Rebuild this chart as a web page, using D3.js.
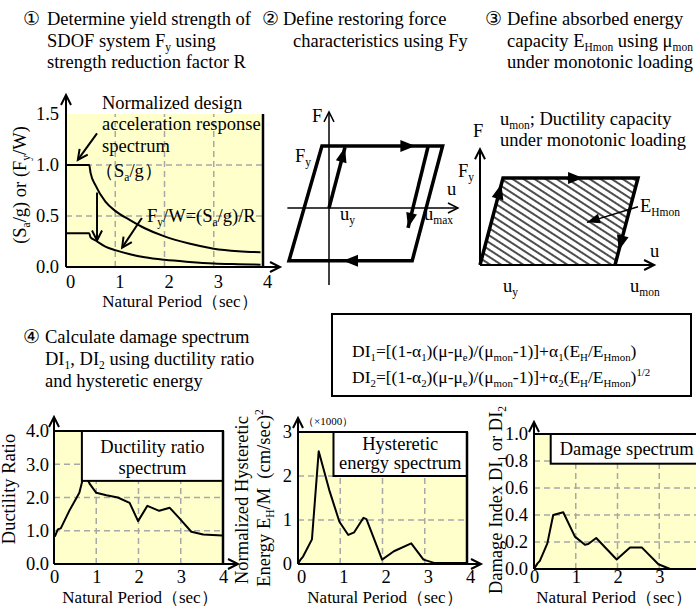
<!DOCTYPE html>
<html>
<head>
<meta charset="utf-8">
<script src="https://cdn.jsdelivr.net/npm/d3@7/dist/d3.min.js"></script>
<style>
  body { margin: 0; background: #ffffff; }
  svg text { font-family: "Liberation Serif", "DejaVu Serif", serif; fill: #000; white-space: pre; }
</style>
</head>
<body>
<div class="board"></div>
<script>
/*
=================================
DATA
=================================
*/
var periodTicks = [0, 1, 2, 3, 4];

// step 1 : design spectrum Sa/g and yield strength Fy/W
var specPeriod = [0, 0.47, 0.5, 0.6, 0.8, 1.0, 1.3, 1.6, 2.0, 2.5, 3.0, 3.5, 3.95];
var saOverG    = [1.0, 1.0, 0.92, 0.8, 0.64, 0.55, 0.46, 0.38, 0.3, 0.23, 0.18, 0.155, 0.145];
var fyOverW    = [0.33, 0.33, 0.29, 0.26, 0.2, 0.165, 0.125, 0.095, 0.07, 0.05, 0.035, 0.028, 0.023];
var specTicks  = [0, 0.5, 1.0, 1.5];

// step 4 : ductility ratio spectrum
var ductPeriod = [0.02, 0.09, 0.16, 0.37, 0.6, 0.72, 0.85, 1.0, 1.24, 1.51, 1.79, 1.99, 2.21, 2.49, 2.74, 2.97, 3.25, 3.53, 3.98];
var ductRatio  = [0.82, 1.04, 1.07, 1.62, 2.14, 2.75, 2.4, 2.14, 2.07, 2.0, 1.84, 1.29, 1.75, 1.6, 1.69, 1.37, 0.97, 0.89, 0.86];
var ductTicks  = [0, 1, 2, 3, 4];

// hysteretic energy spectrum (x1000)
var energyPeriod = [0, 0.06, 0.12, 0.33, 0.49, 0.74, 0.98, 1.19, 1.33, 1.55, 1.62, 1.99, 2.27, 2.68, 2.97, 3.24, 3.87, 4.0];
var energyValue  = [0, 0.1, 0.17, 0.56, 2.56, 1.68, 0.96, 0.66, 0.72, 1.05, 1.02, 0.1, 0.29, 0.47, 0.1, 0.02, 0.02, 0.02];
var energyTicks  = [0, 1, 2, 3];

// damage spectrum
var damagePeriod = [0, 0.08, 0.14, 0.32, 0.46, 0.7, 0.98, 1.22, 1.3, 1.49, 1.98, 2.3, 2.58, 2.98, 3.26, 4.0];
var damageIndex  = [0, 0.04, 0.06, 0.19, 0.40, 0.42, 0.24, 0.18, 0.185, 0.23, 0.07, 0.16, 0.16, 0.035, 0.0, 0.0];
var damageTicks  = [0, 0.2, 0.4, 0.6, 0.8, 1.0];

// restoring force models, in units of uy and Fy
var loopU = [-2.5, -0.44, 7.1, 5.2];
var loopF = [-0.85, 1, 1, -0.85];
var monoU = [0, 1, 6.87, 5.87];
var monoF = [0, 1, 1, 0];


/*
=================================
CREATE SVG
=================================
*/
var FS = 18.5;
var AXT = 17;   // axis title size

var svg = d3.select('.board').append('svg')
            .attr('width', 696)
            .attr('height', 607)
            .attr('font-family', '"Liberation Serif", "DejaVu Serif", serif')
            .style('display', 'block');

svg.append('defs').append('pattern')
   .attr('id', 'hatch')
   .attr('patternUnits', 'userSpaceOnUse')
   .attr('width', 6).attr('height', 6)
   .attr('patternTransform', 'rotate(33)')
   .append('line')
   .attr('x1', 0).attr('y1', 3).attr('x2', 6).attr('y2', 3)
   .attr('stroke', '#000').attr('stroke-width', 1.4);


/*
=================================
HELPER FUNCTIONS
=================================
*/

// text with _{sub} and ^{sup}
var rich = function(sel, str, fs) {
  var parts = str.split(/(_\{[^}]*\}|\^\{[^}]*\})/).filter(p => p.length);
  var shift = 0;
  parts.forEach(function(p) {
    var t = sel.append('tspan');
    var s = 0;
    if (p[0] === '_' && p[1] === '{') {
      s = fs * 0.22;
      t.style('font-size', (fs * 0.62) + 'px').text(p.slice(2, -1));
    } else if (p[0] === '^' && p[1] === '{') {
      s = -fs * 0.38;
      t.style('font-size', (fs * 0.62) + 'px').text(p.slice(2, -1));
    } else {
      t.text(p);
    }
    t.attr('dy', s - shift);
    shift = s;
  });
};

var label = function(g, x, y, str, fs, anchor, rot) {
  var t = g.append('text')
           .attr('x', x).attr('y', y)
           .attr('text-anchor', anchor || 'start')
           .style('font-size', fs + 'px');
  if (rot) t.attr('transform', 'rotate(' + rot + ',' + x + ',' + y + ')');
  rich(t, str, fs);
  return t;
};

// arrow head, tip at x,y pointing along ang
var head = function(g, x, y, ang, len, half, filled, w) {
  var c = Math.cos(ang), s = Math.sin(ang);
  var bx = x - len * c, by = y - len * s;
  var p1 = [bx - half * s, by + half * c];
  var p2 = [bx + half * s, by - half * c];
  if (filled) {
    g.append('polygon').attr('points', [p1, [x, y], p2].join(' ')).attr('fill', '#000');
  } else {
    g.append('path')
     .attr('d', 'M' + p1 + 'L' + x + ',' + y + 'L' + p2)
     .attr('fill', 'none').attr('stroke', '#000').attr('stroke-width', w || 2);
  }
};

var arrowLine = function(g, x1, y1, x2, y2, w, len, half, filled) {
  g.append('line').attr('x1', x1).attr('y1', y1).attr('x2', x2).attr('y2', y2)
   .attr('stroke', '#000').attr('stroke-width', w);
  head(g, x2, y2, Math.atan2(y2 - y1, x2 - x1), len, half, filled, w);
};

var drawPlot = function(cfg) {
  var g = svg.append('g');
  var ymax = cfg.ticks[cfg.ticks.length - 1];
  var x = d3.scaleLinear().domain([0, 4]).range([cfg.left, cfg.right]);
  var y = d3.scaleLinear().domain([0, ymax]).range([cfg.bottom, cfg.top]);

  g.append('rect')
   .attr('x', x(0)).attr('y', y(ymax))
   .attr('width', x(4) - x(0)).attr('height', y(0) - y(ymax))
   .attr('fill', '#FFFFCC');

  // GRID
  g.selectAll('line.gx').data([1, 2, 3]).enter().append('line')
   .attr('class', 'gx')
   .attr('x1', d => x(d)).attr('x2', d => x(d))
   .attr('y1', y(0)).attr('y2', y(ymax))
   .attr('stroke', '#A8A8A8').attr('stroke-width', 1.5).attr('stroke-dasharray', '6,4');

  g.selectAll('line.gy').data(cfg.ticks.slice(1, -1)).enter().append('line')
   .attr('class', 'gy')
   .attr('x1', x(0)).attr('x2', x(4))
   .attr('y1', d => y(d)).attr('y2', d => y(d))
   .attr('stroke', '#A8A8A8').attr('stroke-width', 1.5).attr('stroke-dasharray', '6,4');

  // SERIES
  cfg.series.forEach(function(sr) {
    var line = d3.line()
                 .x((d, i) => x(sr.px[i]))
                 .y(d => y(d))
                 .curve(sr.curve || d3.curveLinear);
    g.append('path')
     .attr('d', line(sr.py))
     .attr('fill', 'none').attr('stroke', '#000').attr('stroke-width', 2)
     .attr('stroke-linejoin', 'round');
  });

  // LEGEND BOX
  if (cfg.legend) {
    var lg = cfg.legend;
    g.append('rect')
     .attr('x', x(lg.from)).attr('y', y(ymax))
     .attr('width', x(4) - x(lg.from)).attr('height', y(lg.level) - y(ymax))
     .attr('fill', '#fff').attr('stroke', '#000').attr('stroke-width', 2);
    lg.lines.forEach(function(s, i) {
      var lx = lg.anchor === 'start' ? x(lg.from) + 9 : (x(lg.from) + x(4)) / 2;
      label(g, lx, lg.base[i], s, FS, lg.anchor || 'middle');
    });
  }

  // FRAME
  if (cfg.topBorder) {
    g.append('line').attr('x1', x(0)).attr('x2', x(4)).attr('y1', y(ymax)).attr('y2', y(ymax))
     .attr('stroke', '#000').attr('stroke-width', 2);
  }
  g.append('line').attr('x1', x(4)).attr('x2', x(4)).attr('y1', y(ymax)).attr('y2', y(0))
   .attr('stroke', '#000').attr('stroke-width', 2.5);

  // AXES WITH ARROWS
  arrowLine(g, x(0), y(0), x(0), cfg.yTip, 2, 10, 5, false);
  arrowLine(g, x(0), y(0), cfg.xTip, y(0), 2, 10, 5, false);

  var xa = g.append('g').attr('transform', 'translate(0,' + y(0) + ')')
            .call(d3.axisBottom(x).tickValues(cfg.xTicks || periodTicks).tickSize(0)
                    .tickPadding(cfg.xPad).tickFormat(d3.format('d')));
  var ya = g.append('g').attr('transform', 'translate(' + x(0) + ',0)')
            .call(d3.axisLeft(y).tickValues(cfg.ticks).tickSize(0)
                    .tickPadding(cfg.yPad).tickFormat(d3.format(cfg.fmt)));
  [xa, ya].forEach(function(a) {
    a.select('.domain').remove();
    a.attr('font-family', null).attr('font-size', null);
    a.selectAll('text').style('font-size', FS + 'px');
  });
  if (cfg.xShift) xa.selectAll('text').attr('x', cfg.xShift);

  return {g: g, x: x, y: y};
};


/*
=================================
TITLES
=================================
*/
var titles = svg.append('g');

label(titles, 23, 25, '\u2460', FS);
label(titles, 47, 25, 'Determine yield strength of', FS);
label(titles, 47, 47, 'SDOF system F_{y} using', FS);
label(titles, 47, 68, 'strength reduction factor R', FS);

label(titles, 262, 25, '\u2461', FS);
label(titles, 283, 25, 'Define restoring force', FS);
label(titles, 293, 47, 'characteristics using Fy', FS);

label(titles, 485, 25, '\u2462', FS);
label(titles, 507, 25, 'Define absorbed energy', FS);
label(titles, 507, 47, 'capacity E_{Hmon} using \u03bc_{mon}', FS);
label(titles, 507, 68, 'under monotonic loading', FS);

label(titles, 23, 343, '\u2463', FS);
label(titles, 45, 343, 'Calculate damage spectrum', FS);
label(titles, 45, 365, 'DI_{1}, DI_{2} using ductility ratio', FS);
label(titles, 45, 387, 'and hysteretic energy', FS);


/*
=================================
STEP 1 : SPECTRUM
=================================
*/
var p1 = drawPlot({
  left: 66, right: 263, top: 114, bottom: 267,
  ticks: specTicks, fmt: '.1f',
  series: [
    {px: specPeriod, py: saOverG, curve: d3.curveMonotoneX},
    {px: specPeriod, py: fyOverW, curve: d3.curveMonotoneX}
  ],
  yTip: 95, xTip: 280, xPad: 8, yPad: 7, xShift: 4, topBorder: false
});

label(p1.g, 102, 109, 'Normalized design', FS);
label(p1.g, 102, 130, 'acceleration response', FS);
label(p1.g, 102, 152, 'spectrum', FS);
label(p1.g, 95, 177, '\uff08S_{a}/g\uff09', FS);
label(p1.g, 147, 222, 'F_{y}/W=(S_{a}/g)/R', FS);
label(p1.g, 26, 185, '(S_{a}/g) or (F_{y}/W)', FS, 'middle', -90);
label(p1.g, 180, 307, 'Natural Period\uff08sec\uff09', AXT, 'middle');

var specNotes = [
  {from: [0.63, 1.31], to: [0.24, 1.05]},
  {from: [0.63, 0.73], to: [0.63, 0.26]},
  {from: [1.54, 0.48], to: [1.14, 0.19]}
];
specNotes.forEach(function(n) {
  arrowLine(p1.g, p1.x(n.from[0]), p1.y(n.from[1]), p1.x(n.to[0]), p1.y(n.to[1]), 2, 10, 5, false);
});


/*
=================================
STEP 2 : RESTORING FORCE
=================================
*/
var g2 = svg.append('g');
var hx = d3.scaleLinear().domain([0, 1]).range([329, 345]);
var hy = d3.scaleLinear().domain([0, 1]).range([208, 146]);

arrowLine(g2, hx(0), hy(-1.24), hx(0), hy(1.55), 1.5, 10, 5, false);
arrowLine(g2, hx(-2.6), hy(0), hx(8.06), hy(0), 1.5, 10, 5, false);

g2.append('polygon')
  .attr('points', loopU.map((u, i) => [hx(u), hy(loopF[i])]).join(' '))
  .attr('fill', 'none').attr('stroke', '#000').attr('stroke-width', 3.5);

arrowLine(g2, hx(0), hy(0), hx(1), hy(0.98), 3.5, 15, 5.5, true);
arrowLine(g2, hx(6.2), hy(1), hx(4.94), hy(-0.32), 3.5, 15, 5.5, true);
head(g2, hx(5.4), hy(1), 0, 15, 6, true);
head(g2, hx(0.875), hy(-0.85), Math.PI, 15, 6, true);

label(g2, 312, 122, 'F', FS);
label(g2, 295, 162, 'F_{y}', FS);
label(g2, 340, 220, 'u_{y}', FS);
label(g2, 424, 220, 'u_{max}', FS);
label(g2, 447, 195, 'u', FS);


/*
=================================
STEP 3 : ABSORBED ENERGY
=================================
*/
var g3 = svg.append('g');
var mx = d3.scaleLinear().domain([0, 1]).range([480, 503]);
var my = d3.scaleLinear().domain([0, 1]).range([265, 178]);

g3.append('polygon')
  .attr('points', monoU.map((u, i) => [mx(u), my(monoF[i])]).join(' '))
  .attr('fill', 'url(#hatch)');

arrowLine(g3, mx(0), my(0), mx(0), my(1.33), 2, 10, 5, false);
arrowLine(g3, mx(0), my(0), mx(7.57), my(0), 2, 10, 5, false);

g3.append('polyline')
  .attr('points', monoU.map((u, i) => [mx(u), my(monoF[i])]).join(' '))
  .attr('fill', 'none').attr('stroke', '#000').attr('stroke-width', 3.5);

var edgeAng = function(u1, f1, u2, f2) {
  return Math.atan2(my(f2) - my(f1), mx(u2) - mx(u1));
};
head(g3, mx(0.93), my(0.93), edgeAng(0, 0, 1, 1), 15, 6, true);
head(g3, mx(4.48), my(1), 0, 15, 6, true);
head(g3, mx(6.04), my(0.17), edgeAng(6.87, 1, 5.87, 0), 15, 6, true);
arrowLine(g3, mx(6.87), my(0.67), mx(4.65), my(0.49), 1.5, 13, 5, true);

label(g3, 473, 137, 'F', FS);
label(g3, 458, 177, 'F_{y}', FS);
label(g3, 500, 125, 'u_{mon}; Ductility capacity', FS);
label(g3, 500, 146, 'under monotonic loading', FS);
label(g3, 640, 212, 'E_{Hmon}', FS);
label(g3, 650, 257, 'u', FS);
label(g3, 503, 292, 'u_{y}', FS);
label(g3, 630, 292, 'u_{mon}', FS);


/*
=================================
FORMULA BOX
=================================
*/
var gf = svg.append('g');
gf.append('rect').attr('x', 332).attr('y', 314).attr('width', 359).attr('height', 82)
  .attr('fill', '#fff').attr('stroke', '#000').attr('stroke-width', 2);
label(gf, 352, 357, 'DI_{1}=[(1-\u03b1_{1})(\u03bc-\u03bc_{e})/(\u03bc_{mon}-1)]+\u03b1_{1}(E_{H}/E_{Hmon})', 17.5);
label(gf, 352, 383, 'DI_{2}=[(1-\u03b1_{2})(\u03bc-\u03bc_{e})/(\u03bc_{mon}-1)]+\u03b1_{2}(E_{H}/E_{Hmon})^{1/2}', 17.5);


/*
=================================
STEP 4 : SPECTRA
=================================
*/
var p4 = drawPlot({
  left: 54, right: 223, top: 431, bottom: 564,
  ticks: ductTicks, fmt: '.1f',
  series: [{px: ductPeriod, py: ductRatio}],
  legend: {from: 0.66, level: 2.5, lines: ['Ductility ratio', 'spectrum'], base: [453, 474]},
  yTip: 417, xTip: 238, xPad: 6, yPad: 5, topBorder: true
});
label(p4.g, 15, 489, 'Ductility Ratio', FS, 'middle', -90);
label(p4.g, 140, 603, 'Natural Period\uff08sec\uff09', AXT, 'middle');

var p5 = drawPlot({
  left: 298, right: 467, top: 432, bottom: 564,
  ticks: energyTicks, fmt: 'd',
  series: [{px: energyPeriod, py: energyValue}],
  legend: {from: 0.84, level: 2, lines: ['Hysteretic', 'energy spectrum'], base: [450, 469]},
  yTip: 418, xTip: 481, xPad: 6, yPad: 6, xShift: 3, topBorder: true
});
label(p5.g, 248, 500, 'Normalized Hysteretic', FS, 'middle', -90);
label(p5.g, 270, 498, 'Energy E_{H}/M  (cm/sec)^{2}', FS, 'middle', -90);
label(p5.g, 303, 425, '\uff08\u00d71000\uff09', 11);
label(p5.g, 385, 603, 'Natural Period\uff08sec\uff09', AXT, 'middle');

var p6 = drawPlot({
  left: 534, right: 701, top: 434, bottom: 569,
  ticks: damageTicks, fmt: '.1f',
  series: [{px: damagePeriod, py: damageIndex}],
  legend: {from: 0.4, level: 0.78, lines: ['Damage spectrum'], base: [455], anchor: 'start'},
  yTip: 422, xTip: 716, xPad: 1, yPad: 6, topBorder: true,
  xTicks: [0, 1, 2, 3]
});
label(p6.g, 502, 500, 'Damage Index DI_{1} or DI_{2}', FS, 'middle', -90);
label(p6.g, 614, 603, 'Natural Period\uff08sec\uff09', AXT, 'middle');
</script>
</body>
</html>
